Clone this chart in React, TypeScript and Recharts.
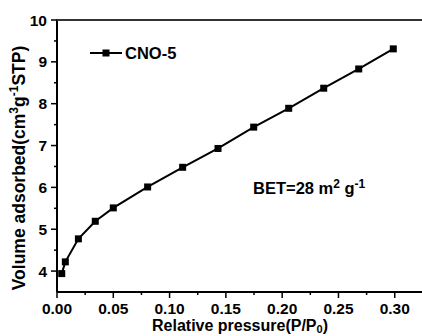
import React from 'react';
import { LineChart, Line, XAxis, YAxis, Customized } from 'recharts';

const pressure = [0.0042, 0.0074, 0.019, 0.034, 0.05, 0.0805, 0.1116, 0.143, 0.1747, 0.2058, 0.2369, 0.268, 0.2987];
const volume = [3.94, 4.22, 4.77, 5.19, 5.51, 6.01, 6.48, 6.93, 7.44, 7.89, 8.37, 8.83, 9.31];
const seriesName = 'CNO-5';

const xMajorTicks = [0, 0.05, 0.1, 0.15, 0.2, 0.25, 0.3];
const xTickLabels = ['0.00', '0.05', '0.10', '0.15', '0.20', '0.25', '0.30'];
const xMinorTicks = [0.025, 0.075, 0.125, 0.175, 0.225, 0.275];
const yMajorTicks = [4, 5, 6, 7, 8, 9, 10];
const yTickLabels = ['4', '5', '6', '7', '8', '9', '10'];
const yMinorTicks = [4.5, 5.5, 6.5, 7.5, 8.5, 9.5];
const yMax = 10;

const data = pressure.map((p, i) => ({ p, v: volume[i] }));

const FONT = '"Liberation Sans", Arial, sans-serif';

const findIdx = (arr: number[], v: number) => arr.findIndex((t) => Math.abs(t - v) < 1e-6);

const XTick = (props: any) => {
  const { x, y, payload } = props;
  const idx = findIdx(xMajorTicks, payload.value);
  const major = idx >= 0;
  return (
    <g>
      <line x1={x} x2={x} y1={y} y2={y + (major ? 6 : 3)} stroke="#000" strokeWidth={1.5} />
      {major && (
        <text x={x} y={y + 21.5} textAnchor="middle" fontFamily={FONT} fontWeight="bold" fontSize={15.5} fill="#000">
          {xTickLabels[idx]}
        </text>
      )}
    </g>
  );
};

const YTick = (props: any) => {
  const { x, y, payload } = props;
  const idx = findIdx(yMajorTicks, payload.value);
  const major = idx >= 0;
  const isTop = Math.abs(payload.value - yMax) < 1e-6;
  return (
    <g>
      {isTop && <path d={`M${x - 1},${y}H${x + 370}`} stroke="#333" strokeWidth={2} fill="none" />}
      <line x1={x} x2={x - (major ? 6 : 3)} y1={y} y2={y} stroke="#000" strokeWidth={1.5} />
      {major && (
        <text x={x - 10} y={y + 5.5} textAnchor="end" fontFamily={FONT} fontWeight="bold" fontSize={15.5} fill="#000">
          {yTickLabels[idx]}
        </text>
      )}
    </g>
  );
};

const SquareDot = (props: any) => {
  const { cx, cy } = props;
  if (cx == null || cy == null) return <g />;
  return <rect x={cx - 3.5} y={cy - 3.5} width={7} height={7} fill="#000" />;
};

const Annotations = () => (
  <g fontFamily={FONT} fontWeight="bold">
    {/* legend */}
    <line x1={90} x2={122} y1={53} y2={53} stroke="#000" strokeWidth={2} />
    <rect x={102.5} y={49.5} width={7} height={7} fill="#000" />
    <text x={125} y={59} fontSize={16.5} fill="#000">{seriesName}</text>
    {/* BET */}
    <text x={253} y={194} fontSize={16.5} fill="#000">
      BET=28 m<tspan fontSize={12} dy={-6}>2</tspan>
      <tspan dy={6}> g</tspan>
      <tspan fontSize={12} dy={-6}>-1</tspan>
    </text>
    {/* x title */}
    <text x={240} y={331} fontSize={16} textAnchor="middle" fill="#000">
      Relative pressure(P/P<tspan fontSize={11} dy={2}>0</tspan>
      <tspan dy={-2}>)</tspan>
    </text>
    {/* y title */}
    <text x={0} y={0} fontSize={17.5} textAnchor="middle" fill="#000" transform="translate(25,168) rotate(-90)">
      Volume adsorbed(cm<tspan fontSize={12} dy={-7}>3</tspan>
      <tspan dy={7}>g</tspan>
      <tspan fontSize={12} dy={-7}>-1</tspan>
      <tspan dy={7}>STP)</tspan>
    </text>
  </g>
);

const allXTicks = [...xMajorTicks, ...xMinorTicks].sort((a, b) => a - b);
const allYTicks = [...yMajorTicks, ...yMinorTicks].sort((a, b) => a - b);

export default function App() {
  return (
    <div style={{ position: 'absolute', left: 0, top: 0, width: 422, height: 336, background: '#fff', overflow: 'hidden' }}>
      <LineChart width={422} height={336} data={data} margin={{ top: 20, right: 0, bottom: 0, left: 0 }}>
        <XAxis
          dataKey="p"
          type="number"
          domain={[0, 0.3242]}
          allowDataOverflow
          ticks={allXTicks}
          interval={0}
          height={44}
          tickSize={0}
          tickMargin={0}
          tickLine={false}
          tick={<XTick />}
          axisLine={{ stroke: '#000', strokeWidth: 2 }}
        />
        <YAxis
          dataKey="v"
          type="number"
          domain={[3.5, 10]}
          allowDataOverflow
          ticks={allYTicks}
          interval={0}
          width={57}
          tickSize={0}
          tickMargin={0}
          tickLine={false}
          tick={<YTick />}
          axisLine={{ stroke: '#000', strokeWidth: 2 }}
        />
        <Line
          dataKey="v"
          type="linear"
          stroke="#000"
          strokeWidth={2}
          dot={<SquareDot />}
          activeDot={false}
          isAnimationActive={false}
        />
        <Customized component={<Annotations />} />
      </LineChart>
    </div>
  );
}
